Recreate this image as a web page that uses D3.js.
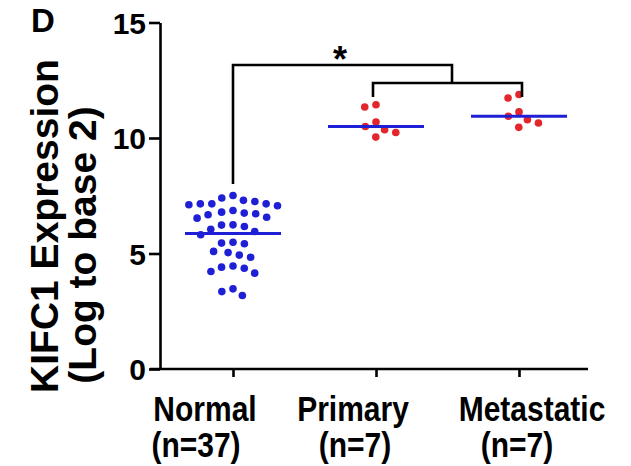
<!DOCTYPE html>
<html>
<head>
<meta charset="utf-8">
<script src="https://cdn.jsdelivr.net/npm/d3@7"></script>
<style>
  body { margin: 0; background: #fff; }
  svg text { font-family: "Liberation Sans", Arial, sans-serif; font-weight: bold; fill: #000; }
</style>
</head>
<body>
<div id="graf"></div>
<script>
// I. Datos

categorias = ['Normal', 'Primary', 'Metastatic']
etiquetasN = ['(n=37)', '(n=7)', '(n=7)']

normal = [7.51, 7.30, 7.15, 7.15, 7.07, 7.11, 7.15, 7.25, 7.40,
        6.79, 6.72, 6.57, 6.53, 6.68, 6.75, 6.86,
        6.24, 6.17, 6.05, 6.23, 5.81, 5.95,
        5.45, 5.42, 5.49, 5.04, 4.84, 4.93, 5.09,
        4.41, 4.22, 4.15, 4.36, 4.46, 3.47, 3.18, 3.35]
primary = [11.44, 11.34, 10.69, 10.36, 10.50, 10.24, 10.04]
metastatic = [11.88, 11.73, 11.13, 10.79, 10.94, 10.65, 10.46]
lineaCentral = [5.87, 10.50, 10.94]

ticksY = [0, 5, 10, 15]

signif = '*'

// II. Configuracion

ancho_total = 631
alto_total = 466

svg = d3.select('#graf').append('svg')
        .attr('width', ancho_total)
        .attr('height', alto_total)

svg.append('rect').attr('width', ancho_total).attr('height', alto_total).attr('fill', '#fff')

x = d3.scalePoint().domain(categorias).range([233, 519])
y = d3.scaleLinear().domain([0, 15]).range([369, 22.5])

azul = '#1f1fd6'
rojo = '#e3262b'

// Ejes
yAxisGroup = svg.append('g')
        .attr('transform', 'translate(160, 0)')
        .call(d3.axisLeft(y).tickValues(ticksY).tickSize(11).tickSizeOuter(0).tickPadding(3))
yAxisGroup.select('.domain').attr('stroke', '#000').attr('stroke-width', 2.6)
yAxisGroup.selectAll('.tick line').attr('stroke', '#000').attr('stroke-width', 2.6)
yAxisGroup.selectAll('.tick text')
        .style('font-size', '30px')
        .attr('dy', '0.36em')

xAxisGroup = svg.append('g')
        .attr('transform', `translate(0, ${y(0)})`)
        .call(d3.axisBottom(x).tickSize(8).tickSizeOuter(0).tickFormat(''))
xAxisGroup.select('.domain').remove()
xAxisGroup.selectAll('.tick line').attr('stroke', '#000').attr('stroke-width', 2.6)
xAxisGroup.append('line')
        .attr('x1', 150).attr('x2', 588)
        .attr('stroke', '#000').attr('stroke-width', 2.6)

// Etiquetas de categoria (algo estiradas en vertical como en la figura)
despl1 = [-28, -23, 13]
despl2 = [-37, -21, -2]
categorias.forEach((c, i) => {
        svg.append('text')
                .attr('transform', `translate(${x(c) + despl1[i]}, 421) scale(1, 1.18)`)
                .attr('text-anchor', 'middle')
                .style('font-size', '30px')
                .text(c)
        svg.append('text')
                .attr('transform', `translate(${x(c) + despl2[i]}, 457) scale(1, 1.14)`)
                .attr('text-anchor', 'middle')
                .style('font-size', '30px')
                .text(etiquetasN[i])
})

// Titulo del eje y
svg.append('text')
        .attr('transform', 'translate(58, 226) rotate(-90)')
        .attr('text-anchor', 'middle')
        .style('font-size', '39px')
        .text('KIFC1 Expression')
svg.append('text')
        .attr('transform', 'translate(95.5, 245) rotate(-90)')
        .attr('text-anchor', 'middle')
        .style('font-size', '39px')
        .text('(Log to base 2)')

svg.append('text')
        .attr('x', 31).attr('y', 32)
        .style('font-size', '33px')
        .text('D')

// Puntos dispersos (enjambre sencillo para que no se pisen)
function enjambre(valores, diam) {
        const orden = valores.map((v, i) => ({ i, py: y(v) })).sort((a, b) => a.py - b.py)
        const puestos = []
        const dx = new Array(valores.length)
        orden.forEach(p => {
                const cands = [0]
                puestos.forEach(q => {
                        const dy = p.py - q.py
                        if (Math.abs(dy) < diam) {
                                const h = Math.sqrt(diam * diam - dy * dy)
                                cands.push(q.x - h, q.x + h)
                        }
                })
                cands.sort((a, b) => Math.abs(a) - Math.abs(b))
                const cx = cands.find(c => puestos.every(q =>
                        (c - q.x) ** 2 + (p.py - q.py) ** 2 >= diam * diam - 0.01))
                dx[p.i] = cx
                puestos.push({ x: cx, py: p.py })
        })
        return dx
}

grupos = [normal, primary, metastatic]
colores = [azul, rojo, rojo]

grupos.forEach((vals, k) => {
        const dx = enjambre(vals, 11.5)
        svg.append('g').selectAll('circle')
                .data(vals)
                .enter()
                .append('circle')
                .attr('cx', (d, i) => x(categorias[k]) + dx[i])
                .attr('cy', d => y(d))
                .attr('r', 3.8)
                .attr('fill', colores[k])
})

// Linea central de cada grupo
svg.append('g').selectAll('line')
        .data(lineaCentral)
        .enter()
        .append('line')
        .attr('x1', (d, i) => x(categorias[i]) - 48)
        .attr('x2', (d, i) => x(categorias[i]) + 48)
        .attr('y1', d => y(d))
        .attr('y2', d => y(d))
        .attr('stroke', azul)
        .attr('stroke-width', 3)

// Barras de significancia
corchete = svg.append('g')
        .attr('fill', 'none')
        .attr('stroke', '#000')
        .attr('stroke-width', 2.6)

xP = x('Primary') - 3
xM = x('Metastatic') + 3
xMedio = 452

corchete.append('path')
        .attr('d', `M${xP},${y(11.77)}V${y(12.38)}H${xM}V${y(11.77)}`)
corchete.append('path')
        .attr('d', `M${x('Normal')},${y(8.01)}V${y(13.16)}H${xMedio}V${y(12.38)}`)

svg.append('text')
        .attr('x', 340).attr('y', 72)
        .attr('text-anchor', 'middle')
        .style('font-size', '36px')
        .text(signif)
</script>
</body>
</html>
